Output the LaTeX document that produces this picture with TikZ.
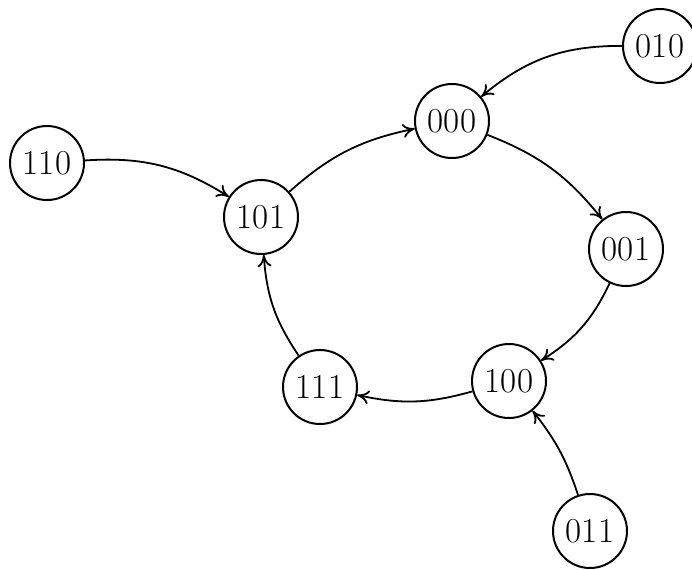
\documentclass[tikz,border=0pt]{standalone}
\usetikzlibrary{arrows.meta}
\begin{document}
\begin{tikzpicture}[x=0.5pt,y=-0.5pt,
  state/.style={draw,circle,line width=1pt,minimum size=37pt,inner sep=0pt,font=\fontsize{17.5}{19}\selectfont},
  edge/.style={line width=0.9pt,-{To[length=6pt,width=7pt]}}]
\useasboundingbox (0,0) rectangle (692,569);
\node[state] (n010) at (660,46) {010};
\node[state] (n000) at (452,121) {000};
\node[state] (n110) at (47,163) {110};
\node[state] (n101) at (261,217) {101};
\node[state] (n001) at (626,249) {001};
\node[state] (n100) at (509,381) {100};
\node[state] (n111) at (320,387) {111};
\node[state] (n011) at (590,531) {011};
\draw[edge] (n010) to[bend right=20] (n000);
\draw[edge] (n110) to[bend left=18] (n101);
\draw[edge] (n101) to[bend left=15] (n000);
\draw[edge] (n000) to[bend left=15] (n001);
\draw[edge] (n001) to[bend left=16] (n100);
\draw[edge] (n100) to[bend left=14] (n111);
\draw[edge] (n111) to[bend left=15] (n101);
\draw[edge] (n011) to[bend right=10] (n100);
\end{tikzpicture}
\end{document}
